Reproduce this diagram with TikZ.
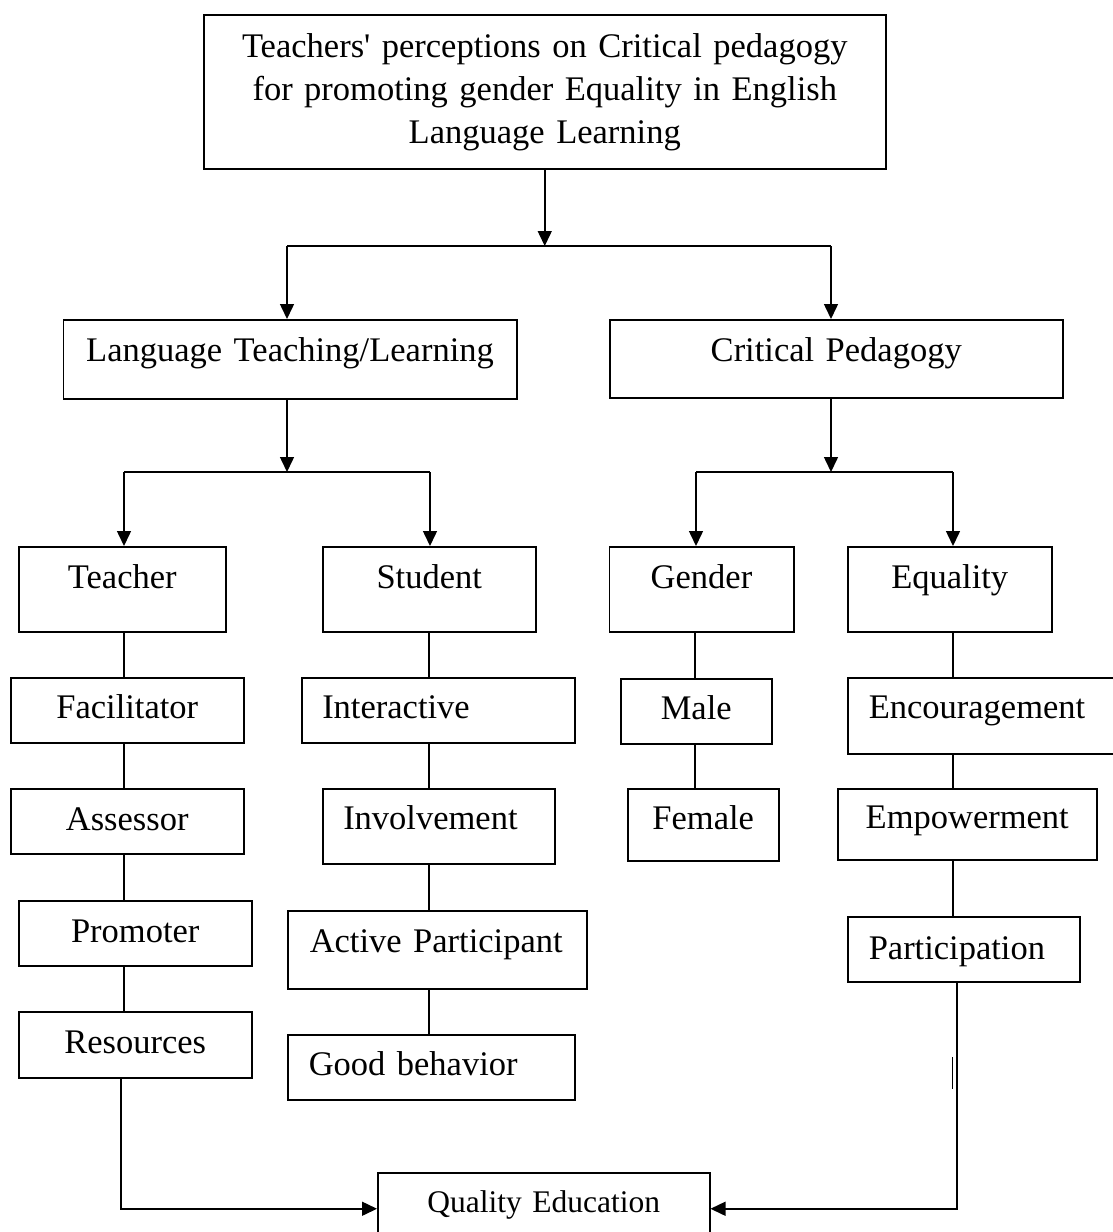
\documentclass[tikz,border=0pt]{standalone}
\usepackage{fontspec}
\setmainfont{Liberation Serif}
\usetikzlibrary{arrows.meta}

\begin{document}
\begin{tikzpicture}[x=1pt,y=-1pt,line width=1.5pt,
  box/.style={draw,anchor=north west,inner xsep=10pt,inner ysep=0pt,align=center,
    minimum width=0pt,minimum height=0pt,font=\fontsize{34.5}{42.7}\selectfont},
  lbox/.style={box,align=left},
  arr/.style={-{Triangle[length=15pt,width=14pt]}}]
\useasboundingbox (0,0) rectangle (1113,1232);

\node[box,text width=662pt,text height=43pt,text depth=111pt] (title) at (203,14)
  {Teachers\textquotesingle{} perceptions on Critical pedagogy\\ for promoting gender Equality in English\\ Language Learning};

\node[box,text width=433.5pt,text height=42pt,text depth=37pt] (ltl) at (62.5,319) {Language Teaching/Learning};
\node[box,text width=433pt,text height=42pt,text depth=36pt] (cp) at (609,319) {Critical Pedagogy};

\node[box,text width=187pt,text height=42pt,text depth=43pt] (teacher) at (18,546) {Teacher};
\node[box,text width=193pt,text height=42pt,text depth=43pt] (student) at (322,546) {Student};
\node[box,text width=164.5pt,text height=42pt,text depth=43pt] (gender) at (608.5,546) {Gender};
\node[box,text width=184pt,text height=42pt,text depth=43pt] (equal) at (847,546) {Equality};

\node[box,text width=213pt,text height=41pt,text depth=24pt] (fac) at (10,677) {Facilitator};
\node[lbox,inner xsep=20.5pt,text width=232pt,text height=41pt,text depth=24pt] (inter) at (301,677) {Interactive};
\node[box,text width=131pt,text height=41pt,text depth=24pt] (male) at (620,678) {Male};
\node[lbox,inner xsep=21pt,text width=228pt,text height=41pt,text depth=35pt] (enc) at (847,677) {Encouragement};

\node[box,text width=213pt,text height=42pt,text depth=23pt] (ass) at (10,788) {Assessor};
\node[lbox,inner xsep=20.5pt,text width=191pt,text height=41pt,text depth=34pt] (inv) at (322,788) {Involvement};
\node[box,text width=131pt,text height=41pt,text depth=31pt] (fem) at (627,788) {Female};
\node[box,text width=239pt,text height=40pt,text depth=31pt] (emp) at (837,788) {Empowerment};

\node[box,text width=213pt,text height=42pt,text depth=23pt] (prom) at (18,900) {Promoter};
\node[lbox,inner xsep=22pt,text width=255pt,text height=42pt,text depth=36pt] (act) at (287,910) {Active Participant};
\node[lbox,inner xsep=21pt,text width=190pt,text height=43pt,text depth=22pt] (part) at (847,916) {Participation};

\node[box,text width=213pt,text height=42pt,text depth=24pt] (res) at (18,1011) {Resources};
\node[lbox,inner xsep=21pt,text width=245pt,text height=41pt,text depth=24pt] (good) at (287,1034) {Good behavior};

\node[box,text width=312pt,text height=40pt,text depth=32pt,font=\fontsize{31.5}{38}\selectfont] (qual) at (377,1172) {Quality Education};

% branch points
\coordinate (s1) at (287,246);
\coordinate (s2) at (831,246);
\coordinate (t1) at (124,472);
\coordinate (t2) at (430,472);
\coordinate (g1) at (696,472);
\coordinate (g2) at (953,472);
% columns
\coordinate (cT) at (124,0);
\coordinate (cS) at (429,0);
\coordinate (cG) at (695,0);
\coordinate (cE) at (953,0);
\coordinate (rq) at (121,0);
\coordinate (pq) at (957,0);

\draw[arr] (title.south) -- (title.south |- s1);
\draw (s1) -- (s2);
\draw[arr] (s1) -- (s1 |- ltl.north);
\draw[arr] (s2) -- (s2 |- cp.north);

\draw[arr] (ltl.south -| s1) -- (s1 |- t1);
\draw (t1) -- (t2);
\draw[arr] (t1) -- (t1 |- teacher.north);
\draw[arr] (t2) -- (t2 |- student.north);

\draw[arr] (cp.south -| s2) -- (s2 |- g1);
\draw (g1) -- (g2);
\draw[arr] (g1) -- (g1 |- gender.north);
\draw[arr] (g2) -- (g2 |- equal.north);

\foreach \a/\b/\c in {teacher/fac/cT,fac/ass/cT,ass/prom/cT,prom/res/cT,
  student/inter/cS,inter/inv/cS,inv/act/cS,act/good/cS,
  gender/male/cG,male/fem/cG,equal/enc/cE,enc/emp/cE,emp/part/cE}
  \draw (\a.south -| \c) -- (\b.north -| \c);

\draw[arr] (res.south -| rq) |- (qual.west);
\draw[arr] (part.south -| pq) |- (qual.east);
\draw[line width=0.9pt] (952,1057) -- (952,1089);
\end{tikzpicture}
\end{document}
